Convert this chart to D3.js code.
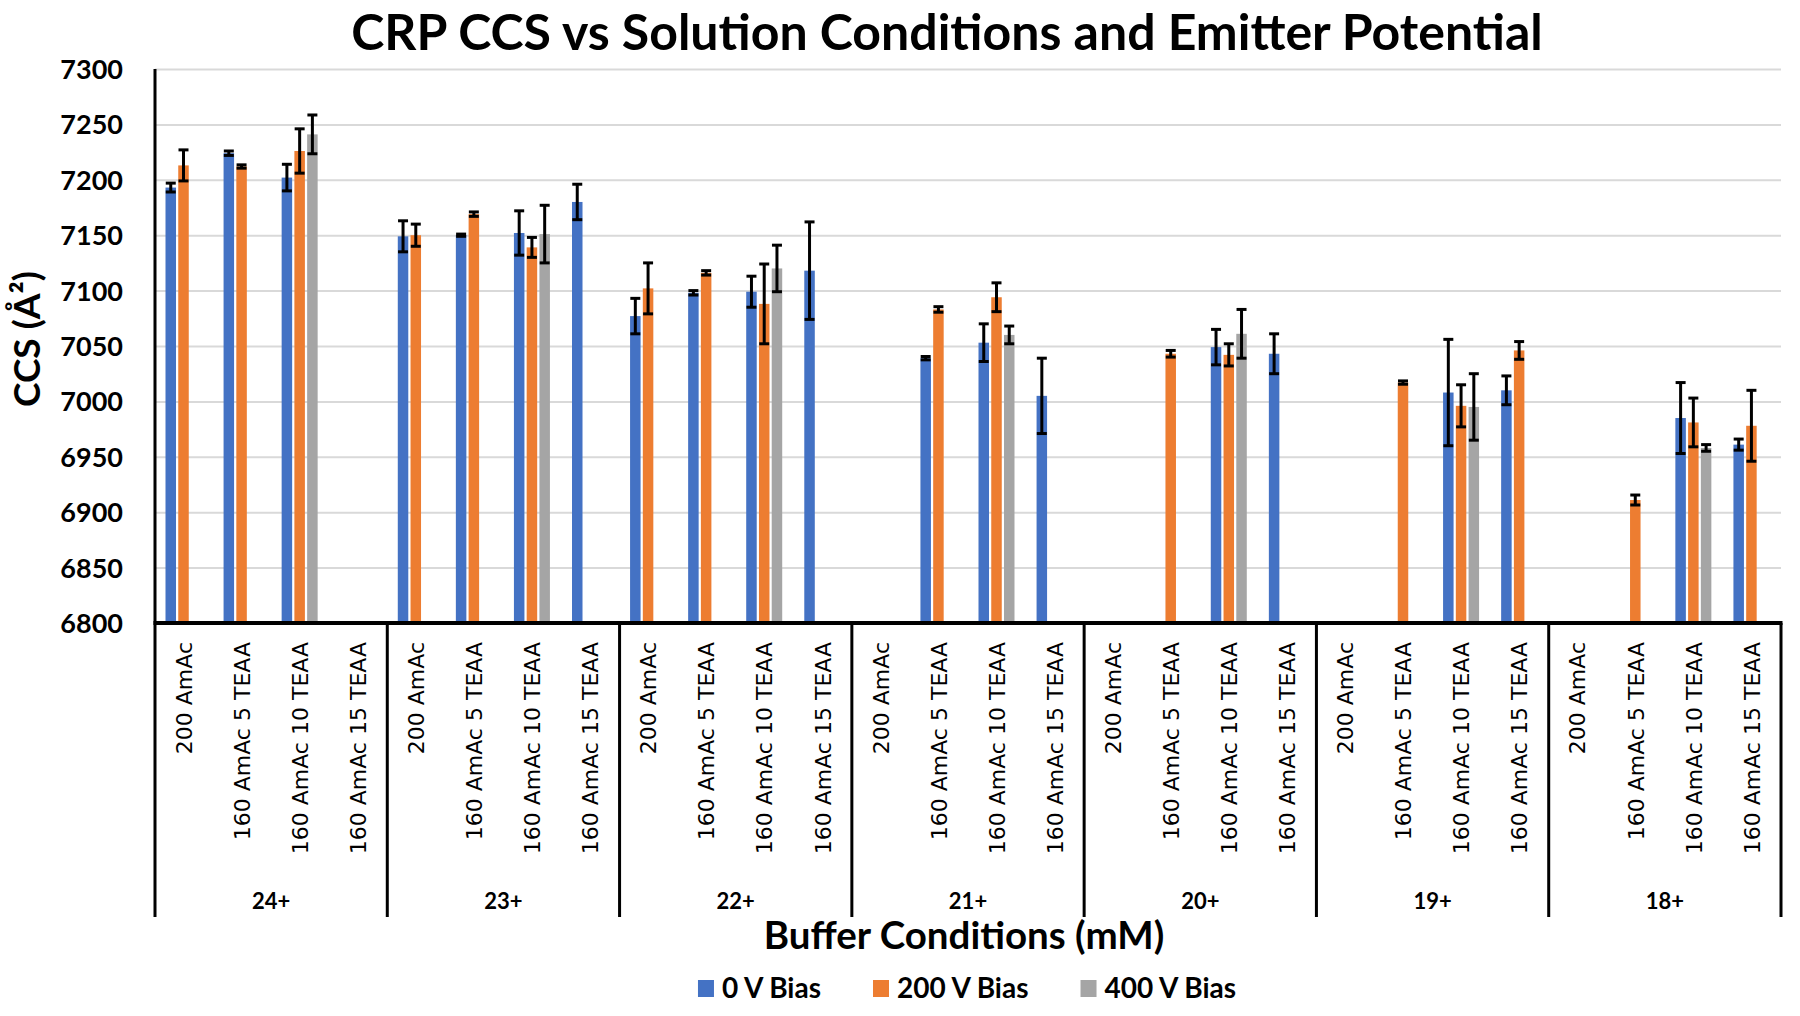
<!DOCTYPE html>
<html><head><meta charset="utf-8">
<script src="https://cdn.jsdelivr.net/npm/d3@7"></script>
<style>
body{margin:0;background:#fff;}
svg{display:block;}
</style></head><body>
<svg id="c" width="1800" height="1016"></svg>
<script>
// ---------- data ----------
const groups = ["24+","23+","22+","21+","20+","19+","18+"];
const conditions = ["200 AmAc","160 AmAc 5 TEAA","160 AmAc 10 TEAA","160 AmAc 15 TEAA"];
const series = ["0 V Bias","200 V Bias","400 V Bias"];
const colors = ["#4472C4","#ED7D31","#A5A5A5"];
const yTicks = [6800,6850,6900,6950,7000,7050,7100,7150,7200,7250,7300];

// values listed group by group, 4 conditions each
const bias0 = [7193,7224,7202,null, 7149,7150,7152,7180, 7077,7098,7099,7118, null,7039,7053,7005, null,null,7049,7043, null,null,7008,7010, null,null,6985,6961];
const err0  = [4,2,12,null, 14,1,20,16, 16,2,14,44, null,1.5,17,34, null,null,16,18, null,null,48,13, null,null,32,5];
const bias200 = [7213,7212,7226,null, 7150,7169,7139,null, 7102,7116,7088,null, null,7083,7094,null, null,7043,7042,null, null,7017,6996,7046, null,6911,6981,6978];
const err200  = [14,1.5,20,null, 10,2,9,null, 23,2,36,null, null,2.5,13,null, null,3,10,null, null,1.5,19,8, null,4.5,22,32];
const bias400 = [null,null,7241,null, null,null,7151,null, null,null,7120,null, null,null,7060,null, null,null,7061,null, null,null,6995,null, null,null,6958,null];
const err400  = [null,null,17.5,null, null,null,26,null, null,null,21,null, null,null,8,null, null,null,22,null, null,null,30,null, null,null,3,null];

const values = [bias0,bias200,bias400];
const errors = [err0,err200,err400];

// ---------- layout ----------
const L = 155, R = 1781, T = 69, B = 623;
const FONT = "Lato, 'Open Sans', sans-serif";
const svg = d3.select("#c");

const y = d3.scaleLinear().domain([6800,7300]).range([B,T]);
const x = d3.scaleBand().domain(d3.range(groups.length*conditions.length)).range([L,R]);
const xs = d3.scaleBand().domain(series).range([10.5,46.5]).paddingInner(0.176);
const xg = d3.scaleBand().domain(groups).range([L,R]);

// title
svg.append("text").attr("x",947).attr("y",50).attr("text-anchor","middle")
  .style("font-family",FONT).style("font-weight","bold").style("font-size","50px")
  .text("CRP CCS vs Solution Conditions and Emitter Potential");

// y axis with gridlines
const gy = svg.append("g").attr("transform",`translate(${L},0)`)
  .call(d3.axisLeft(y).tickValues(yTicks).tickSize(-(R-L)).tickFormat(d3.format("d")));
gy.select(".domain").remove();
gy.selectAll(".tick line").attr("stroke","#d9d9d9").attr("stroke-width",2);
gy.selectAll(".tick text").attr("x",-32).attr("dy","0.35em").attr("fill","#000")
  .style("font-family",FONT).style("font-weight","bold").style("font-size","27px");

// y axis title
svg.append("text").attr("transform","translate(40,339) rotate(-90)").attr("text-anchor","middle")
  .style("font-family",FONT).style("font-weight","bold").style("font-size","37px")
  .text("CCS (Å²)");

// bars
series.forEach((s,si)=>{
  const vals = values[si], errs = errors[si];
  const g = svg.append("g");
  const data = vals.map((v,i)=>({i,v,e:errs[i]})).filter(d=>d.v!=null);
  g.selectAll("rect").data(data).join("rect")
    .attr("x",d=>x(d.i)+xs(s)).attr("width",xs.bandwidth())
    .attr("y",d=>y(d.v)).attr("height",d=>B-y(d.v))
    .attr("fill",colors[si]);
  const eb = svg.append("g").attr("stroke","#000").attr("stroke-width",3);
  data.forEach(d=>{
    const cx = x(d.i)+xs(s)+xs.bandwidth()/2;
    const y1 = y(d.v-d.e), y2 = y(d.v+d.e);
    eb.append("line").attr("x1",cx).attr("x2",cx).attr("y1",y1).attr("y2",y2);
    eb.append("line").attr("x1",cx-5).attr("x2",cx+5).attr("y1",y1).attr("y2",y1);
    eb.append("line").attr("x1",cx-5).attr("x2",cx+5).attr("y1",y2).attr("y2",y2);
  });
});

// y axis line
svg.append("line").attr("x1",L).attr("x2",L).attr("y1",T).attr("y2",B).attr("stroke","#000").attr("stroke-width",3);

// x axis: category labels
const gx = svg.append("g").attr("transform",`translate(0,${B})`)
  .call(d3.axisBottom(x).tickSize(0).tickFormat(i=>conditions[i%conditions.length]));
gx.select(".domain").remove();
gx.selectAll(".tick text")
  .attr("transform","rotate(-90)").attr("x",-19).attr("y",0).attr("dy","0.35em")
  .attr("text-anchor","end").attr("fill","#000")
  .style("font-family","'DejaVu Sans', Verdana, sans-serif").style("font-size","22px");

// x axis: group labels
const gg = svg.append("g").attr("transform",`translate(0,${B})`)
  .call(d3.axisBottom(xg).tickSize(0));
gg.select(".domain").remove();
gg.selectAll(".tick text").attr("y",278).attr("dy","0.35em").attr("fill","#000")
  .style("font-family",FONT).style("font-weight","bold").style("font-size","22px");

// axis line and group separators
svg.append("line").attr("x1",L-1.5).attr("x2",R+1.5).attr("y1",B).attr("y2",B).attr("stroke","#000").attr("stroke-width",4);
const seps = groups.map(g=>xg(g)).concat([R]);
svg.append("g").selectAll("line").data(seps).join("line")
  .attr("x1",d=>d).attr("x2",d=>d).attr("y1",B).attr("y2",917)
  .attr("stroke","#000").attr("stroke-width",3);

// x axis title
svg.append("text").attr("x",964).attr("y",949).attr("text-anchor","middle")
  .style("font-family",FONT).style("font-weight","bold").style("font-size","38.5px")
  .text("Buffer Conditions (mM)");

// legend
const leg = svg.append("g");
let cx = 0;
series.forEach((s,si)=>{
  const it = leg.append("g");
  it.append("rect").attr("x",0).attr("y",-8).attr("width",16).attr("height",17).attr("fill",colors[si]);
  const t = it.append("text").attr("x",24).attr("y",0).attr("dy","0.35em")
    .style("font-family",FONT).style("font-weight","bold").style("font-size","28px").text(s);
  it.attr("transform",`translate(${cx},0)`);
  cx += 24 + t.node().getComputedTextLength() + 52;
});
const totalW = cx - 52;
leg.attr("transform",`translate(${967 - totalW/2},988)`);
</script>
</body></html>
